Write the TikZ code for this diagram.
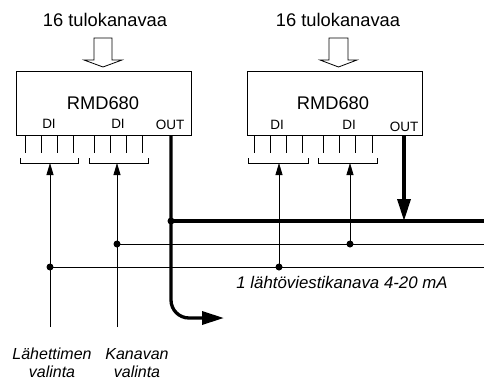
\documentclass[tikz,border=0pt]{standalone}
\usepackage{fontspec}
\setmainfont{Liberation Sans}
\usetikzlibrary{arrows.meta}
\begin{document}
\begin{tikzpicture}[x=1pt,y=-1pt,
  box/.style={draw,line width=0.8pt,minimum width=175pt,minimum height=64pt,inner sep=0pt},
  thinline/.style={line width=0.8pt},
  thickline/.style={line width=3.3pt},
  dot/.style={circle,fill,inner sep=0pt,minimum size=7pt},
  tarrow/.style={thinline,-{Triangle[length=12pt,width=7pt]}},
  bigarrow/.style={thickline,-{Triangle[length=22pt,width=13pt]}},
  hollow/.style={draw,line width=0.8pt,fill=white},
  txt/.style={inner sep=0pt},
  titletext/.style={txt,font=\fontsize{18.3}{20}\selectfont},
  rmdtext/.style={txt,font=\fontsize{18.3}{20}\selectfont},
  pinlabel/.style={txt,font=\fontsize{13.5}{15}\selectfont},
  lbl/.style={txt,font=\fontsize{16}{18}\selectfont\itshape,anchor=base},
]
\useasboundingbox (0,0) rectangle (484,380);

% boxes
\node[box] (box1) at (103.5,103) {};
\node[box] (box2) at (334.5,103) {};

% titles and hollow arrows
\node[titletext] (title1) at (105,20) {16 tulokanavaa};
\node[titletext] (title2) at (338,20) {16 tulokanavaa};
\draw[hollow] (94,38) -- (94,60) -- (84,60) -- (103,67) -- (122,60) -- (112,60) -- (112,38) -- cycle;
\draw[hollow] (329,38) -- (329,60) -- (320,60) -- (338.5,67) -- (357,60) -- (348,60) -- (348,38) -- cycle;

% box texts
\node[rmdtext] (n1) at (103,103.5) {RMD680};
\node[rmdtext] (n2) at (333,103.5) {RMD680};
\node[pinlabel] (di1) at (49,124) {DI};
\node[pinlabel] (di2) at (118,124) {DI};
\node[pinlabel] (out1) at (170,124.5) {OUT};
\node[pinlabel] (di3) at (277,124.5) {DI};
\node[pinlabel] (di4) at (349,124.5) {DI};
\node[pinlabel] (out2) at (404,127) {OUT};

% pins
\foreach \x in {25,41,57,73,94,110,126,142,254,270,286,302,323,339,355,372}
  \draw[thinline] (\x,135) -- (\x,153);
% brackets
\draw[thinline] (20,158) -- (20,163) -- (78,163) -- (78,158);
\draw[thinline] (89,158) -- (89,163) -- (148,163) -- (148,158);
\draw[thinline] (248,158) -- (248,163) -- (308,163) -- (308,158);
\draw[thinline] (318,158) -- (318,163) -- (377,163) -- (377,158);
\coordinate (br1) at (50,163);
\coordinate (br2) at (117,163);
\coordinate (br3) at (279,163);
\coordinate (br4) at (350,163);

% junctions
\node[dot] (j0) at (171,221) {};
\node[dot] (j1) at (117,244) {};
\node[dot] (j2) at (350,244) {};
\node[dot] (j3) at (50,267) {};
\node[dot] (j4) at (279,267) {};
\coordinate (e0) at (484,221);
\coordinate (e1) at (484,244);
\coordinate (e2) at (484,267);
\coordinate (s1) at (50,327);
\coordinate (s2) at (117,327);
\coordinate (o1) at (171,135);
\coordinate (o2) at (404,135);
\coordinate (t0) at (404,221);
\coordinate (oe) at (224,318);

% horizontal buses
\draw[thickline] (j0.center) -- (e0);
\draw[thinline] (j1.center) -- (e1);
\draw[thinline] (j3.center) -- (e2);

% selection lines
\draw[tarrow] (s1) -- (br1);
\draw[tarrow] (s2) -- (br2);
\draw[tarrow] (j4.center) -- (br3);
\draw[tarrow] (j2.center) -- (br4);

% outputs
\draw[bigarrow,rounded corners=18pt] (o1) |- (oe);
\draw[bigarrow] (o2) -- (t0);

% labels
\node[txt,font=\fontsize{16.8}{18}\selectfont\itshape] (lout) at (342,282) {1 lähtöviestikanava 4-20 mA};
\node[lbl] (l1a) at (52,359) {Lähettimen};
\node[lbl] (l1b) at (52,377.5) {valinta};
\node[lbl] (l2a) at (137,359) {Kanavan};
\node[lbl] (l2b) at (137,377.5) {valinta};
\end{tikzpicture}
\end{document}
